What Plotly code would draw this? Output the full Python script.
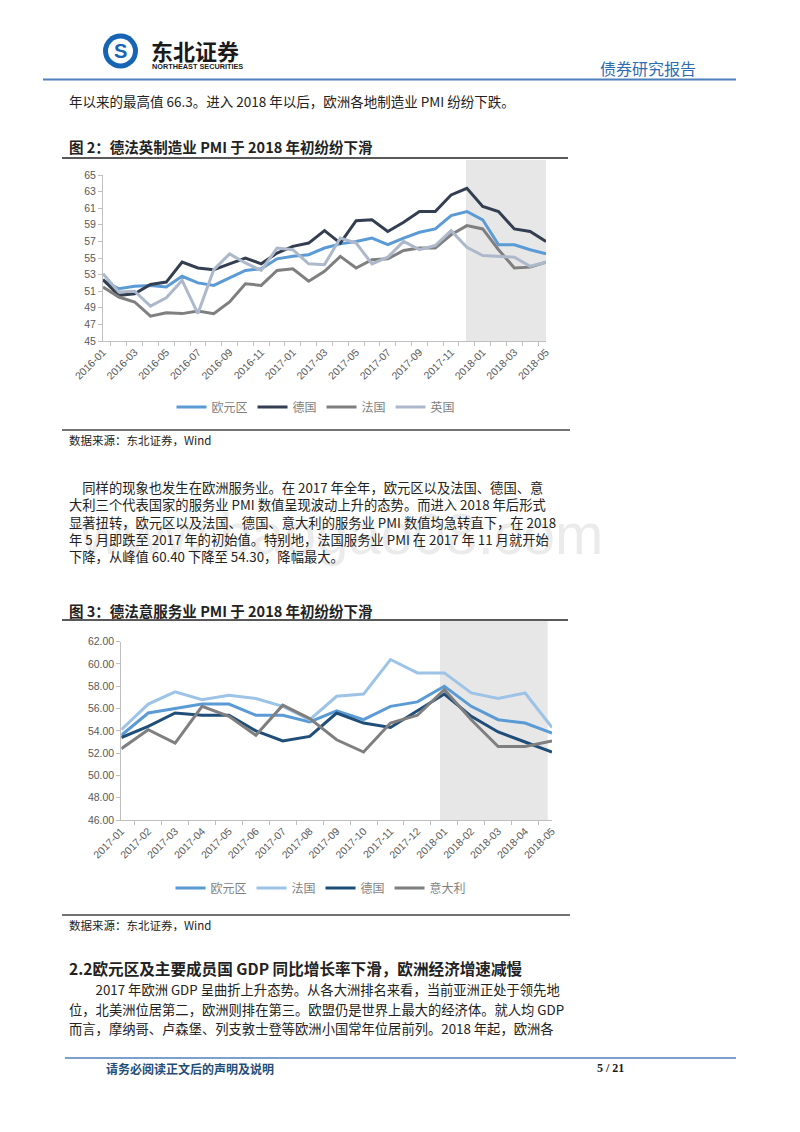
import plotly.graph_objects as go

# ---------------- data ----------------
months1 = ["2016-01", "2016-02", "2016-03", "2016-04", "2016-05", "2016-06", "2016-07",
           "2016-08", "2016-09", "2016-10", "2016-11", "2016-12", "2017-01", "2017-02",
           "2017-03", "2017-04", "2017-05", "2017-06", "2017-07", "2017-08", "2017-09",
           "2017-10", "2017-11", "2017-12", "2018-01", "2018-02", "2018-03", "2018-04",
           "2018-05"]
ez_mfg = [52.3, 51.3, 51.6, 51.7, 51.5, 52.8, 52.0, 51.7, 52.6, 53.5, 53.7, 54.9, 55.2, 55.4,
          56.2, 56.7, 57.0, 57.4, 56.6, 57.4, 58.1, 58.5, 60.1, 60.6, 59.6, 56.6, 56.6, 56.0,
          55.5]
de_mfg = [52.4, 50.5, 50.7, 51.8, 52.1, 54.5, 53.8, 53.6, 54.3, 55.0, 54.3, 55.6, 56.4, 56.8,
          58.3, 56.8, 59.5, 59.6, 58.2, 59.3, 60.6, 60.6, 62.6, 63.4, 61.2, 60.6, 58.5, 58.2,
          57.0]
fr_mfg = [51.5, 50.3, 49.7, 48.0, 48.4, 48.3, 48.6, 48.3, 49.7, 51.9, 51.7, 53.5, 53.7, 52.2,
          53.4, 55.2, 53.8, 54.8, 54.9, 55.9, 56.2, 56.2, 57.8, 58.9, 58.5, 56.0, 53.8, 53.9,
          54.5]
uk_mfg = [53.1, 50.9, 51.0, 49.2, 50.2, 52.3, 48.3, 53.6, 55.5, 54.4, 53.5, 56.2, 56.0, 54.3,
          54.2, 57.4, 56.8, 54.3, 55.1, 57.0, 56.0, 56.5, 58.3, 56.3, 55.3, 55.2, 55.1, 54.0,
          54.5]

months2 = ["2017-01", "2017-02", "2017-03", "2017-04", "2017-05", "2017-06", "2017-07",
           "2017-08", "2017-09", "2017-10", "2017-11", "2017-12", "2018-01", "2018-02",
           "2018-03", "2018-04", "2018-05"]
ez_srv = [53.6, 55.6, 56.0, 56.4, 56.4, 55.4, 55.4, 54.8, 55.8, 55.0, 56.2, 56.6, 58.0, 56.2,
          55.0, 54.7, 53.8]
fr_srv = [54.1, 56.4, 57.5, 56.8, 57.2, 56.9, 56.2, 55.0, 57.1, 57.3, 60.4, 59.2, 59.2, 57.4,
          56.9, 57.4, 54.3]
de_srv = [53.4, 54.4, 55.6, 55.4, 55.4, 54.0, 53.1, 53.5, 55.6, 54.7, 54.3, 55.8, 57.3, 55.3,
          53.9, 53.0, 52.1]
it_srv = [52.4, 54.1, 52.9, 56.2, 55.3, 53.6, 56.3, 55.1, 53.2, 52.1, 54.7, 55.4, 57.7, 55.0,
          52.6, 52.6, 53.1]

ticks1 = [45, 47, 49, 51, 53, 55, 57, 59, 61, 63, 65]
ticks2 = [46, 48, 50, 52, 54, 56, 58, 60, 62]

# ---------------- helpers ----------------
W, H = 800, 1132
OFF = 8  # page body margin of the html page
def px(x):
    return (x - OFF) / W
def py(y):
    return 1 - (y - OFF) / H

CJK = "Noto Sans CJK SC"
TICKF = dict(family="Liberation Sans, Arial", size=10.5, color="#595959")
BLUE_LINE = "#4F81BD"

fig = go.Figure()

# chart 1 traces
for name, vals, col in [("欧元区", ez_mfg, "#5B9BD5"), ("德国", de_mfg, "#333F50"),
                        ("法国", fr_mfg, "#7F7F7F"), ("英国", uk_mfg, "#ADB9CA")]:
    fig.add_trace(go.Scatter(x=months1, y=vals, name=name, mode="lines",
                             line=dict(color=col, width=3), xaxis="x", yaxis="y",
                             legend="legend"))

# chart 2 traces
for name, vals, col in [("欧元区", ez_srv, "#5B9BD5"), ("法国", fr_srv, "#9DC3E6"),
                        ("德国", de_srv, "#1F4E79"), ("意大利", it_srv, "#7F7F7F")]:
    fig.add_trace(go.Scatter(x=months2, y=vals, name=name, mode="lines",
                             line=dict(color=col, width=3), xaxis="x2", yaxis="y2",
                             legend="legend2"))

axis_common = dict(showgrid=False, zeroline=False, showline=True, linecolor="#BFBFBF",
                   linewidth=1, ticks="outside", tickcolor="#BFBFBF", ticklen=4,
                   tickfont=TICKF, fixedrange=True)

fig.update_layout(
    width=W, height=H, margin=dict(l=0, r=0, t=0, b=0, autoexpand=False),
    paper_bgcolor="white", plot_bgcolor="rgba(0,0,0,0)",
    xaxis=dict(domain=[px(103), px(546)], type="category", tickson="boundaries",
               tickvals=months1,
               ticktext=[m if i % 2 == 0 else "" for i, m in enumerate(months1)],
               tickangle=-45, anchor="y", **axis_common),
    yaxis=dict(domain=[py(341), py(175)], range=[45, 65], tickvals=ticks1, anchor="x",
               **axis_common),
    xaxis2=dict(domain=[px(121.3), px(552)], type="category", tickson="boundaries",
                tickvals=months2, tickangle=-45, anchor="y2", **axis_common),
    yaxis2=dict(domain=[py(820), py(641.7)], range=[46, 62], tickvals=ticks2,
                tickformat=".2f", anchor="x2", **axis_common),
    legend=dict(orientation="h", x=px(316), y=py(407), xanchor="center", yanchor="middle",
                font=dict(family=CJK, size=12, color="#7F7F7F"), itemwidth=30,
                bgcolor="rgba(0,0,0,0)"),
    legend2=dict(orientation="h", x=px(321), y=py(888), xanchor="center", yanchor="middle",
                 font=dict(family=CJK, size=12, color="#7F7F7F"), itemwidth=30,
                 bgcolor="rgba(0,0,0,0)"),
)

shapes = []
# shaded periods
shapes.append(dict(type="rect", xref="x", yref="paper", x0=22.94, x1=28.0,
                   y0=py(341), y1=py(160), fillcolor="#E7E7E7", line=dict(width=0),
                   layer="below"))
shapes.append(dict(type="rect", xref="x2", yref="paper", x0=11.84, x1=15.84,
                   y0=py(820), y1=py(621), fillcolor="#E7E7E7", line=dict(width=0),
                   layer="below"))
# header / footer lines
shapes.append(dict(type="line", xref="paper", yref="paper", x0=px(43), x1=px(736),
                   y0=py(79.5), y1=py(79.5), line=dict(color=BLUE_LINE, width=2)))
shapes.append(dict(type="line", xref="paper", yref="paper", x0=px(65), x1=px(736),
                   y0=py(1058), y1=py(1058), line=dict(color=BLUE_LINE, width=1.5)))
# figure title underlines and source lines
for yy in [158, 620]:
    shapes.append(dict(type="line", xref="paper", yref="paper", x0=px(62), x1=px(568),
                       y0=py(yy), y1=py(yy), line=dict(color="#222222", width=1.5)))
for yy in [430, 915]:
    shapes.append(dict(type="line", xref="paper", yref="paper", x0=px(62), x1=px(570),
                       y0=py(yy), y1=py(yy), line=dict(color="#444444", width=1.5)))
# logo
shapes.append(dict(type="circle", xref="paper", yref="paper", x0=px(103), x1=px(138),
                   y0=py(68.5), y1=py(33.5), fillcolor="#1764B5", line=dict(width=0)))
shapes.append(dict(type="circle", xref="paper", yref="paper", x0=px(108), x1=px(133),
                   y0=py(63.5), y1=py(38.5), fillcolor="white", line=dict(width=0)))
fig.update_layout(shapes=shapes)

ann = []
def text(x, y, s, size=13.5, color="#222222", bold=False, family=CJK, anchor="left"):
    if bold:
        s = "<b>" + s + "</b>"
    ann.append(dict(x=px(x), y=py(y), xref="paper", yref="paper", text=s, showarrow=False,
                    xanchor=anchor, yanchor="middle", align="left", borderpad=0,
                    font=dict(family=family, size=size, color=color)))

# watermark
ann.append(dict(x=px(605), y=py(533), xref="paper", yref="paper", text="www.baogao08.com",
                showarrow=False, xanchor="right", yanchor="middle",
                font=dict(family="Liberation Sans", size=58, color="rgba(190,190,190,0.3)")))

# logo text
text(120.5, 51, "S", size=20, color="#1764B5", bold=True, family="Liberation Sans",
     anchor="center")
text(150, 50, "东北证券", size=22, color="#1A1A1A", bold=True)
text(151, 66, "NORTHEAST SECURITIES", size=7.3, color="#1A1A1A", bold=True,
     family="Liberation Sans")
text(697, 68, "债券研究报告", size=16, color="#2E6DB4", anchor="right")

text(68, 101, "年以来的最高值 66.3。进入 2018 年以后，欧洲各地制造业 PMI 纷纷下跌。")
text(68, 147, "图 2：德法英制造业 PMI 于 2018 年初纷纷下滑", size=14.5, bold=True)
text(68, 440, "数据来源：东北证券，Wind", size=11.5)

para = [
    "　同样的现象也发生在欧洲服务业。在 2017 年全年，欧元区以及法国、德国、意",
    "大利三个代表国家的服务业 PMI 数值呈现波动上升的态势。而进入 2018 年后形式",
    "显著扭转，欧元区以及法国、德国、意大利的服务业 PMI 数值均急转直下，在 2018",
    "年 5 月即跌至 2017 年的初始值。特别地，法国服务业 PMI 在 2017 年 11 月就开始",
    "下降，从峰值 60.40 下降至 54.30，降幅最大。",
]
text(68, 521.5, "<br>".join(para), size=13.3)

text(68, 610, "图 3：德法意服务业 PMI 于 2018 年初纷纷下滑", size=14.5, bold=True)
text(68, 925, "数据来源：东北证券，Wind", size=11.5)

text(68, 968, "2.2欧元区及主要成员国 GDP 同比增长率下滑，欧洲经济增速减慢", size=15.6, bold=True)
para2 = [
    (68, 990, "　　2017 年欧洲 GDP 呈曲折上升态势。从各大洲排名来看，当前亚洲正处于领先地"),
    (68, 1009, "位，北美洲位居第二，欧洲则排在第三。欧盟仍是世界上最大的经济体。就人均 GDP"),
    (68, 1028, "而言，摩纳哥、卢森堡、列支敦士登等欧洲小国常年位居前列。2018 年起，欧洲各"),
]
for x, y, s in para2:
    text(x, y, s, size=13.3)

text(105, 1068, "请务必阅读正文后的声明及说明", size=12, color="#1F4E79", bold=True)
text(610, 1068, "5 / 21", size=12, color="#1A1A1A", bold=True, family="Liberation Serif",
     anchor="center")

fig.update_layout(annotations=ann)
fig.write_html("out.html")
